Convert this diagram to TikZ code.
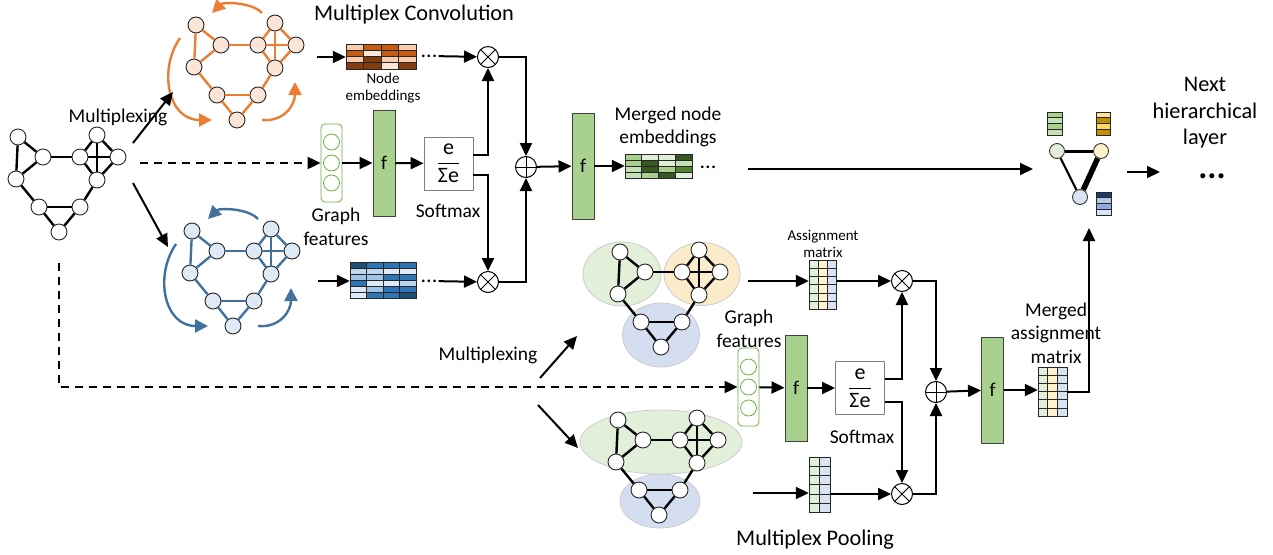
\documentclass[tikz,border=0pt]{standalone}
\usepackage{fontspec}
\setmainfont{Carlito}
\usetikzlibrary{arrows.meta,positioning,shapes.geometric,fit,calc}

\definecolor{orgedge}{HTML}{ED7D31}
\definecolor{orgfill}{HTML}{FBE5D6}
\definecolor{bluedge}{HTML}{41719C}
\definecolor{blufill}{HTML}{DEEBF7}
\definecolor{fgreen}{HTML}{A9D18E}
\definecolor{gfgreen}{HTML}{70AD47}
\definecolor{clgreen}{HTML}{E2F0D9}
\definecolor{clyellow}{HTML}{FFF2CC}
\definecolor{clblue}{HTML}{DAE3F3}
\definecolor{elgreen}{HTML}{E2EFD9}
\definecolor{elyellow}{HTML}{FCEBCB}
\definecolor{elblue}{HTML}{D5DEF0}
\definecolor{o1}{HTML}{FBE5D6}
\definecolor{o2}{HTML}{F8CBAD}
\definecolor{o3}{HTML}{C55A11}
\definecolor{o4}{HTML}{843C0C}
\definecolor{b1}{HTML}{DEEBF7}
\definecolor{b2}{HTML}{BDD7EE}
\definecolor{b3}{HTML}{9DC3E6}
\definecolor{b4}{HTML}{2E75B6}
\definecolor{b5}{HTML}{1F4E79}
\definecolor{g1}{HTML}{E2F0D9}
\definecolor{g2}{HTML}{C5E0B4}
\definecolor{g3}{HTML}{A9D18E}
\definecolor{g4}{HTML}{548235}
\definecolor{g5}{HTML}{385723}
\definecolor{y1}{HTML}{FFE699}
\definecolor{y2}{HTML}{BF9000}
\definecolor{y3}{HTML}{FFD966}
\definecolor{n1}{HTML}{203864}
\definecolor{n2}{HTML}{B4C7E7}
\definecolor{n3}{HTML}{8FAADC}

\newcommand{\lbfont}{\fontsize{19.5}{23.5}\selectfont}
\newcommand{\ttlfont}{\fontsize{22.3}{26.5}\selectfont}
\newcommand{\smlfont}{\fontsize{15}{17.5}\selectfont}

\tikzset{
  conn/.style={line width=2, -{Triangle[length=13pt,width=12pt]}},
  dconn/.style={conn, dash pattern=on 8pt off 6pt},
  turn/.style={line width=2.4, -{Triangle[length=13pt,width=13pt]}},
  gnode/.style={circle, draw=black!85, line width=0.9, fill=white, minimum size=16, inner sep=0},
  onode/.style={gnode, fill=orgfill},
  bnode/.style={gnode, fill=blufill},
  gedge/.style={line width=2.4},
  oedge/.style={line width=2.4, draw=orgedge},
  bedge/.style={line width=2.4, draw=bluedge},
  cnode/.style={circle, draw=black!80, line width=0.9, minimum size=15, inner sep=0},
  cluster/.style={ellipse, draw=black!20, line width=0.8, inner sep=0},
  fbox/.style={draw=black!75, line width=0.9, fill=fgreen, minimum width=22, minimum height=106, inner sep=0, font=\lbfont},
  smbox/.style={draw=black!50, line width=0.9, fill=white, minimum width=49, minimum height=53, inner sep=0, font=\fontsize{22}{24}\selectfont},
  gfbox/.style={draw=gfgreen, line width=0.8, fill=white, rounded corners=4pt, minimum width=21, minimum height=78},
  gfcirc/.style={circle, draw=gfgreen, line width=0.8, minimum size=16, inner sep=0},
  mulop/.style={circle, draw, line width=1, fill=white, minimum size=21, inner sep=0,
    path picture={\draw[line width=1] (path picture bounding box.north west) -- (path picture bounding box.south east)
      (path picture bounding box.north east) -- (path picture bounding box.south west);}},
  addop/.style={circle, draw, line width=1, fill=white, minimum size=21, inner sep=0,
    path picture={\draw[line width=1] (path picture bounding box.north) -- (path picture bounding box.south)
      (path picture bounding box.east) -- (path picture bounding box.west);}},
  lab/.style={font=\lbfont, align=center},
  ttl/.style={font=\ttlfont, align=center},
  sml/.style={font=\smlfont, align=center},
  dots/.style={font=\fontsize{22}{22}\selectfont, inner sep=1pt},
}

% graph with ten vertices: prefix, shift, node style, edge style
\newcommand{\netgraph}[4]{%
  \begin{scope}[shift={(#2)}]
    \foreach \n/\gx/\gy in {a/0/0,b/25/20,c/-2/42,d/62/20,e/79/-2,f/100/20,g/79/43,h/21/70,i/62/70,j/41/95}
      \node[#3] (#1\n) at (\gx,\gy) {};
    \foreach \ea/\eb in {a/b,a/c,b/c,b/d,d/e,e/f,f/g,g/d,d/f,e/g,c/h,g/i,h/i,h/j,i/j}
      \draw[#4] (#1\ea) -- (#1\eb);
  \end{scope}}

% curved arrows around one layer: shift, colour
\newcommand{\turnarrows}[2]{%
  \begin{scope}[shift={(#1)}, color=#2]
    \draw[turn] (66,-12) .. controls (56,-23) and (27,-23) .. (16,-12);
    \draw[turn] (-16,13) .. controls (-38,45) and (-28,95) .. (16,95);
    \draw[turn] (66,95) .. controls (88,97) and (99,80) .. (99,57);
  \end{scope}}

% coloured cell matrix: name, left, top, columns, cell width, cell height, rows, colours
\newcommand{\cellmat}[8]{%
  \foreach \cellc [count=\cnt from 0] in {#8} {
    \pgfmathtruncatemacro{\colI}{mod(\cnt,#4)}
    \pgfmathtruncatemacro{\rowI}{div(\cnt,#4)}
    \filldraw[fill=\cellc, draw=black!85, line width=1] ({#2+\colI*#5},{#3+\rowI*#6}) rectangle ++(#5,#6);
  }
  \node[fit={(#2,#3) ({#2+#4*#5},{#3+#7*#6})}, inner sep=0] (#1) {};}

\begin{document}
\begin{tikzpicture}[x=1pt,y=-1pt]
\useasboundingbox (0,0) rectangle (1273,554);
\fill[white] (0,0) rectangle (1273,554);

% input graph and the two layers
\netgraph{in}{18,137}{gnode}{gedge}
\netgraph{or}{196,25}{onode}{oedge}
\netgraph{bl}{192,231}{bnode}{bedge}
\turnarrows{196,25}{orgedge}
\turnarrows{192,231}{bluedge}

\node[lab] (mpxA) at (118,117) {Multiplexing};
\coordinate (inUp) at (133,143);
\coordinate (orIn) at (173,92);
\coordinate (inDn) at (133,183);
\coordinate (blIn) at (168,247);
\draw[conn] (inUp) -- (orIn);
\draw[conn] (inDn) -- (blIn);

% multiplex convolution
\node[ttl] (convT) at (414,15) {Multiplex Convolution};
\node[gfbox] (gfA) at (331.5,163) {};
\foreach \k/\cy in {1/142,2/163,3/183} \node[gfcirc] (gfA\k) at (331.5,\cy) {};
\node[lab] (gfAl) at (336,227) {Graph\\features};
\coordinate (inR) at (140,163);
\draw[dconn] (inR) -- (gfA.west);

\node[fbox] (fA) at (384,163) {f};
\node[smbox] (smA) at (448.5,163.5) {$\displaystyle\frac{\mbox{e}}{\mbox{Σe}}$};
\node[lab] (smAl) at (448,211) {Softmax};
\draw[conn] (gfA) -- (fA);
\draw[conn] (fA) -- (smA);

\coordinate (orOut) at (317,57);
\cellmat{embO}{346}{44}{4}{17.5}{6.25}{4}{o2,o3,o3,o2,o3,o1,o3,o3,o2,o4,o2,o2,o4,o4,o1,o4}
\draw[conn] (orOut) -- (orOut -| embO.west);
\node[sml] (embOl) at (383,88) {Node\\embeddings};
\node[dots] (dotsO) at (429,56) {...};
\node[mulop] (mxO) at (488,57) {};
\draw[conn] (dotsO) -- (mxO);

\coordinate (blOut) at (318,281);
\cellmat{embB}{350}{262}{4}{16.5}{6}{6}{b5,b4,b4,b4,b2,b2,b1,b1,b3,b3,b4,b4,b4,b1,b1,b2,b1,b3,b4,b4,b1,b4,b4,b5}
\draw[conn] (blOut) -- (blOut -| embB.west);
\node[dots] (dotsB) at (429,281) {...};
\node[mulop] (mxB) at (488,282) {};
\draw[conn] (dotsB) -- (mxB);

\node[addop] (adA) at (526,167) {};
\draw[conn] ([yshift=8.5pt]smA.east) -| (mxO);
\draw[conn] ([yshift=-11.5pt]smA.east) -| (mxB);
\draw[conn] (mxO) -| (adA);
\draw[conn] (mxB) -| (adA);

\node[fbox] (fB) at (583,166) {f};
\draw[conn] (adA) -- (fB);
\cellmat{embG}{625}{154}{4}{16.75}{6}{4}{g3,g1,g1,g5,g3,g5,g1,g2,g2,g5,g3,g4,g2,g3,g5,g1}
\draw[conn] (fB) -- (fB -| embG.west);
\node[lab] (embGl) at (668,127) {Merged node\\embeddings};
\node[dots] (dotsG) at (708,167) {...};

% next hierarchical layer
\node[cnode, fill=clgreen] (cgG) at (1057,151) {};
\node[cnode, fill=clyellow] (cgY) at (1101,151) {};
\node[cnode, fill=clblue] (cgB) at (1080,197) {};
\draw[line width=3] (cgG) -- (cgY);
\draw[line width=2.2] (cgG) -- (cgB);
\draw[line width=5.5] (cgY) -- (cgB);
\cellmat{stkG}{1047}{112}{1}{15}{5.75}{4}{g3,g2,g3,g2}
\cellmat{stkY}{1096}{112}{1}{14}{5.75}{4}{y1,y2,y3,y2}
\cellmat{stkB}{1096}{192}{1}{15}{5.75}{4}{n1,n2,n3,clblue}
\coordinate (mergeR) at (748,169);
\coordinate (cgIn) at (1033,169);
\draw[conn] (mergeR) -- (cgIn);
\coordinate (cgOut) at (1127,172);
\coordinate (nextIn) at (1160,172);
\draw[conn] (cgOut) -- (nextIn);
\node[ttl] (nextl) at (1205,113) {Next\\hierarchical\\layer};
\node[font=\fontsize{34}{34}\selectfont\bfseries, inner sep=1pt] (dotsN) at (1212,176) {...};

% multiplex pooling
\node[lab] (mpxB) at (488,355) {Multiplexing};
\coordinate (mpS1) at (540,378);
\coordinate (mpE1) at (577,336);
\coordinate (mpS2) at (538,405);
\coordinate (mpE2) at (578,448);
\draw[conn] (mpS1) -- (mpE1);
\draw[conn] (mpS2) -- (mpE2);

\node[cluster, fill=elgreen, minimum width=78, minimum height=64] (clA1) at (622,274) {};
\node[cluster, fill=elyellow, minimum width=76, minimum height=63] (clA2) at (702,274) {};
\node[cluster, fill=elblue, minimum width=77, minimum height=64] (clA3) at (661,335) {};
\netgraph{pa}{620,252}{gnode}{gedge}
\node[cluster, fill=elblue, minimum width=80, minimum height=54] (clB2) at (660,501) {};
\node[cluster, fill=elgreen, minimum width=162, minimum height=64] (clB1) at (661,442) {};
\netgraph{pb}{618,420}{gnode}{gedge}

\node[sml] (asgAl) at (823,244) {Assignment\\matrix};
\cellmat{asgA}{809}{260}{3}{9.3}{8.3}{6}{clgreen,clyellow,clblue,clgreen,clyellow,clblue,clgreen,clyellow,clblue,clgreen,clyellow,clblue,clgreen,clyellow,clblue,clgreen,clyellow,clblue}
\coordinate (pA) at (748,281);
\draw[conn] (pA) -- (pA -| asgA.west);
\node[mulop] (mxC) at (902,281) {};
\draw[conn] (asgA.east |- mxC) -- (mxC);

\cellmat{asgB}{809}{457}{2}{10.5}{9.3}{6}{clgreen,clblue,clgreen,clblue,clgreen,clblue,clgreen,clblue,clgreen,clblue,clgreen,clblue}
\coordinate (pB) at (753,493);
\draw[conn] (pB) -- (pB -| asgB.west);
\node[mulop] (mxD) at (902,494) {};
\draw[conn] (asgB.east |- mxD) -- (mxD);

\node[gfbox] (gfB) at (748.5,387) {};
\foreach \k/\cy in {1/367,2/387,3/408} \node[gfcirc] (gfB\k) at (748.5,\cy) {};
\node[lab] (gfBl) at (749,329) {Graph\\features};
\coordinate (dS) at (59,263);
\draw[dconn] (dS) |- (gfB.west);

\node[fbox] (fC) at (796,388) {f};
\node[smbox] (smB) at (860,388) {$\displaystyle\frac{\mbox{e}}{\mbox{Σe}}$};
\node[lab] (smBl) at (862,437) {Softmax};
\draw[conn] (gfB) -- (fC);
\draw[conn] (fC) -- (smB);
\draw[conn] ([yshift=9pt]smB.east) -| (mxC);
\draw[conn] ([yshift=-14pt]smB.east) -| (mxD);

\node[addop] (adB) at (936,392) {};
\draw[conn] (mxC) -| (adB);
\draw[conn] (mxD) -| (adB);
\node[fbox] (fD) at (992.5,390) {f};
\draw[conn] (adB) -- (fD);
\cellmat{asgM}{1038}{367}{3}{9.7}{8.2}{6}{clgreen,clyellow,clblue,clgreen,clyellow,clblue,clgreen,clyellow,clblue,clgreen,clyellow,clblue,clgreen,clyellow,clblue,clgreen,clyellow,clblue}
\draw[conn] (fD) -- (fD -| asgM.west);
\node[lab] (asgMl) at (1056,333) {Merged\\assignment\\matrix};
\coordinate (upT) at (1089,228);
\draw[conn] (asgM.east) -| (upT);

\node[ttl] (poolT) at (815,540) {Multiplex Pooling};
\end{tikzpicture}
\end{document}
